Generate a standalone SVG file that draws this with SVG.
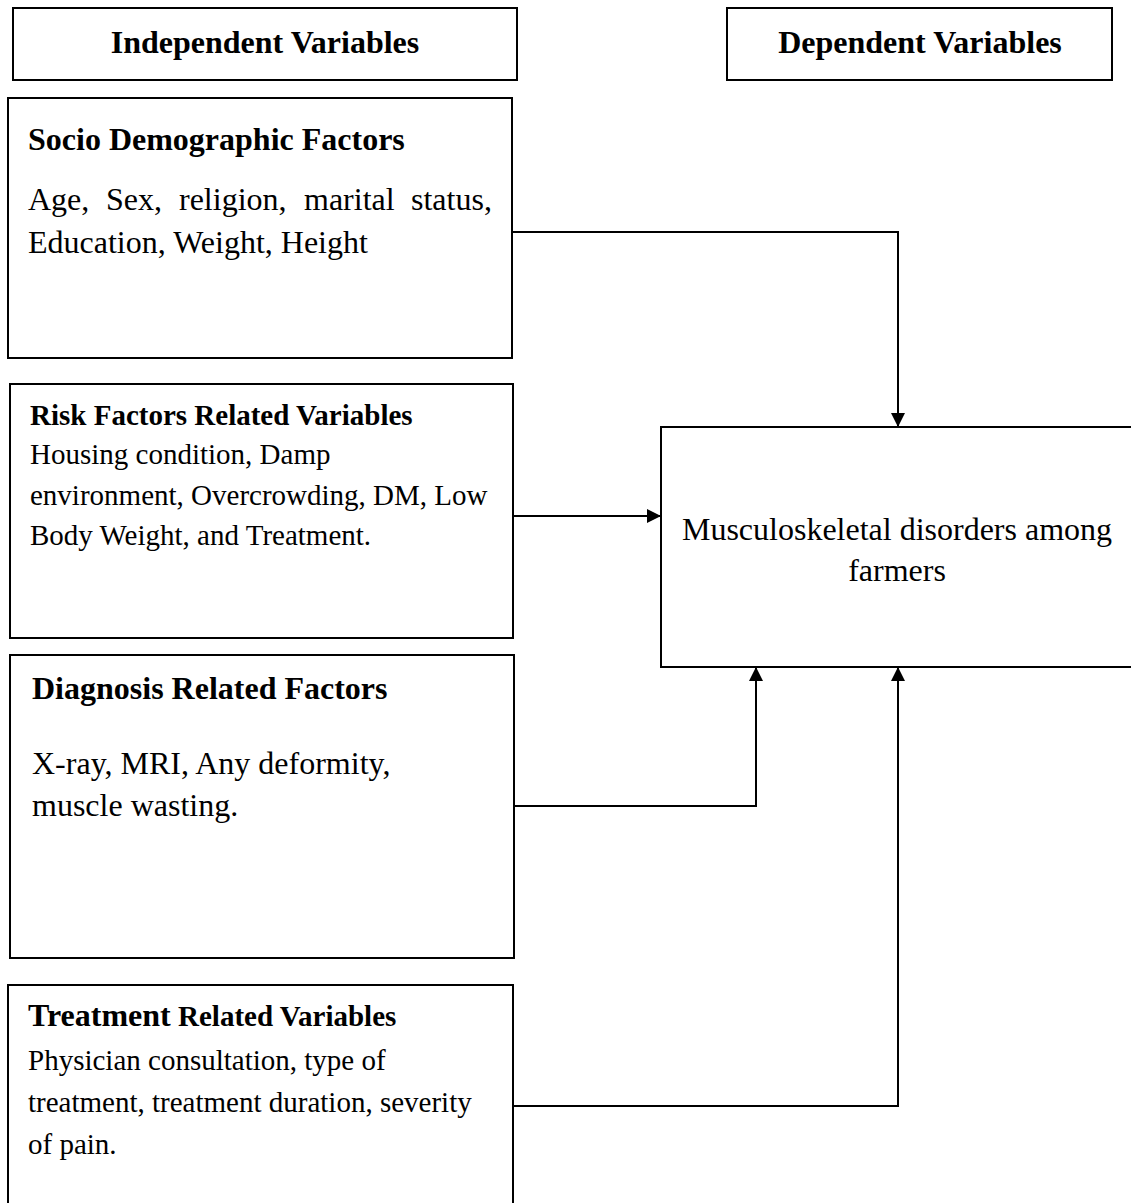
<svg xmlns="http://www.w3.org/2000/svg" width="1131" height="1203" viewBox="0 0 1131 1203">
<defs>
<style>
.box{fill:#fff;stroke:#000;stroke-width:2}
.t{font-family:"Liberation Serif","Times New Roman",serif;fill:#000}
.b{font-weight:bold}
.s32{font-size:32px}
.s29{font-size:29px}
.c{text-anchor:middle}
.conn{fill:none;stroke:#000;stroke-width:2}
</style>
<marker id="ah" viewBox="0 0 14 14" refX="14" refY="7" markerWidth="14" markerHeight="14" markerUnits="userSpaceOnUse" orient="auto">
<path d="M0,0 L14,7 L0,14 Z" fill="#000"/>
</marker>
</defs>
<rect width="1131" height="1203" fill="#fff"/>
<g id="header-independent">
<rect class="box" x="13" y="8" width="504" height="72"/>
<text class="t b s32 c" x="265" y="53">Independent Variables</text>
</g>
<g id="header-dependent">
<rect class="box" x="727" y="8" width="385" height="72"/>
<text class="t b s32 c" x="920" y="53">Dependent Variables</text>
</g>
<g id="socio">
<rect class="box" x="8" y="98" width="504" height="260"/>
<text class="t b s32" x="28" y="150">Socio Demographic Factors</text>
<text class="t s32" y="210"><tspan x="28">Age,</tspan><tspan x="106">Sex,</tspan><tspan x="179">religion,</tspan><tspan x="304">marital</tspan><tspan x="411">status,</tspan></text>
<text class="t s32" x="28" y="253">Education, Weight, Height</text>
</g>
<g id="risk">
<rect class="box" x="10" y="384" width="503" height="254"/>
<text class="t b s29" x="30" y="425">Risk Factors Related Variables</text>
<text class="t s29" x="30" y="464">Housing condition, Damp</text>
<text class="t s29" x="30" y="505">environment, Overcrowding, DM, Low</text>
<text class="t s29" x="30" y="545">Body Weight, and Treatment.</text>
</g>
<g id="diagnosis">
<rect class="box" x="10" y="655" width="504" height="303"/>
<text class="t b s32" x="32" y="699">Diagnosis Related Factors</text>
<text class="t s32" x="32" y="774">X-ray, MRI, Any deformity,</text>
<text class="t s32" x="32" y="816">muscle wasting.</text>
</g>
<g id="treatment">
<rect class="box" x="8" y="985" width="505" height="230"/>
<text class="t b" x="28" y="1026"><tspan font-size="32">Treatment</tspan><tspan font-size="29"> Related Variables</tspan></text>
<text class="t s29" x="28" y="1070">Physician consultation, type of</text>
<text class="t s29" x="28" y="1112">treatment, treatment duration, severity</text>
<text class="t s29" x="28" y="1154">of pain.</text>
</g>
<g id="outcome">
<rect class="box" x="661" y="427" width="480" height="240"/>
<text class="t s32 c" x="897" y="540">Musculoskeletal disorders among</text>
<text class="t s32 c" x="897" y="581">farmers</text>
</g>
<g id="connectors">
<path class="conn" d="M512,232 H898 V427" marker-end="url(#ah)"/>
<path class="conn" d="M513,516 H661" marker-end="url(#ah)"/>
<path class="conn" d="M514,806 H756 V667" marker-end="url(#ah)"/>
<path class="conn" d="M513,1106 H898 V667" marker-end="url(#ah)"/>
</g>
</svg>
